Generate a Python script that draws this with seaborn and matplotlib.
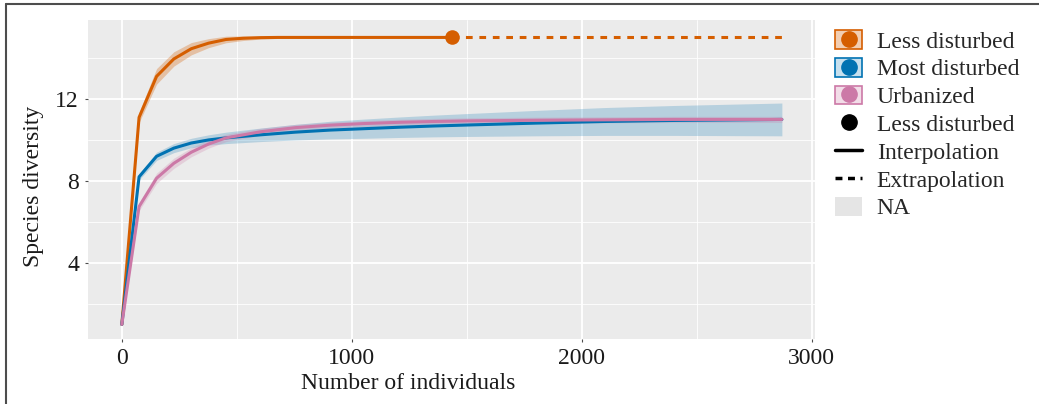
import numpy as np
import pandas as pd
import matplotlib
matplotlib.use("Agg")
import matplotlib.pyplot as plt
import seaborn as sns
from matplotlib.lines import Line2D
from matplotlib.patches import Patch
from matplotlib.legend_handler import HandlerTuple

# ---------------- data ----------------
assemblages = ["Less disturbed", "Most disturbed", "Urbanized"]
colors = ["#D55E00", "#0072B2", "#CC79A7"]

less_m = [1, 76, 152, 227, 303, 378, 454, 529, 605, 680, 756, 831, 906, 982,
          1057, 1133, 1208, 1284, 1359, 1435]
less_q = [1.0, 11.1, 13.1, 13.95, 14.45, 14.72, 14.9, 14.96, 14.99, 15.0, 15.0,
          15.0, 15.0, 15.0, 15.0, 15.0, 15.0, 15.0, 15.0, 15.0]
less_se = [0.0, 0.25, 0.38, 0.35, 0.3, 0.22, 0.16, 0.11, 0.07, 0.05, 0.03, 0.02,
           0.01, 0.0, 0.0, 0.0, 0.0, 0.0, 0.0, 0.0]
less_ext_m = [1435, 2870]
less_ext_q = [15.0, 15.0]

most_m = [1, 76, 152, 227, 303, 378, 454, 605, 756, 906, 1057, 1208, 1359,
          1510, 1800, 2100, 2400, 2870]
most_q = [1.0, 8.2, 9.2, 9.6, 9.85, 10.0, 10.1, 10.25, 10.38, 10.48, 10.55,
          10.62, 10.68, 10.73, 10.82, 10.9, 10.95, 11.0]
most_se = [0.0, 0.15, 0.2, 0.22, 0.23, 0.25, 0.28, 0.33, 0.38, 0.43, 0.47, 0.5,
           0.53, 0.56, 0.62, 0.68, 0.73, 0.8]

urb_m = [1, 76, 152, 227, 303, 378, 454, 605, 756, 906, 1057, 1208, 1359,
         1510, 1800, 2100, 2400, 2870]
urb_q = [1.0, 6.75, 8.13, 8.86, 9.4, 9.8, 10.1, 10.4, 10.6, 10.72, 10.8, 10.86,
         10.9, 10.93, 10.96, 10.98, 11.0, 11.0]
urb_se = [0.0, 0.2, 0.25, 0.25, 0.22, 0.2, 0.18, 0.17, 0.16, 0.15, 0.15, 0.15,
          0.15, 0.15, 0.15, 0.15, 0.15, 0.15]

ref_point_m = [1435]
ref_point_q = [15.0]

x_ticks = [0, 1000, 2000, 3000]
x_minor = [500, 1500, 2500]
y_ticks = [4, 8, 12]
y_minor = [2, 6, 10, 14]

# ---------------- styling ----------------
sns.set_theme(style="darkgrid", rc={"axes.facecolor": "#EBEBEB",
                                     "grid.color": "white"})
plt.rcParams["font.family"] = ["Liberation Serif", "DejaVu Serif"]
FS = 17

fig = plt.figure(figsize=(10.39, 4.04), dpi=100)
ax = fig.add_axes([88 / 1039, 1 - 339 / 404, (815 - 88) / 1039, (339 - 20) / 404])

interp = pd.concat([
    pd.DataFrame({"m": less_m, "qD": less_q, "se": less_se, "Assemblage": assemblages[0]}),
    pd.DataFrame({"m": most_m, "qD": most_q, "se": most_se, "Assemblage": assemblages[1]}),
    pd.DataFrame({"m": urb_m, "qD": urb_q, "se": urb_se, "Assemblage": assemblages[2]}),
], ignore_index=True)
extra = pd.DataFrame({"m": less_ext_m, "qD": less_ext_q, "Assemblage": assemblages[0]})
pal = dict(zip(assemblages, colors))
band_alpha = {assemblages[0]: 0.3, assemblages[1]: 0.22, assemblages[2]: 0.25}

for name in assemblages:
    d = interp[interp["Assemblage"] == name]
    ax.fill_between(d["m"], d["qD"] - d["se"], d["qD"] + d["se"],
                    color=pal[name], alpha=band_alpha[name], lw=0, zorder=2)

sns.lineplot(data=interp, x="m", y="qD", hue="Assemblage", palette=pal,
             estimator=None, linewidth=2.2, legend=False, ax=ax, zorder=3)
sns.lineplot(data=extra, x="m", y="qD", hue="Assemblage", palette=pal,
             estimator=None, linewidth=2.2, legend=False, ax=ax, zorder=3,
             dashes=False)
ax.lines[-1].set_linestyle((0, (2.2, 2.2)))
sns.scatterplot(x=ref_point_m, y=ref_point_q, color=colors[0], s=110,
                marker="o", linewidth=0, ax=ax, zorder=4, legend=False)

ax.set_xlim(-146, 3014)
ax.set_ylim(0.29, 15.85)
ax.set_xticks(x_ticks)
ax.set_xticks(x_minor, minor=True)
ax.set_yticks(y_ticks)
ax.set_yticks(y_minor, minor=True)
ax.set_xticklabels([str(v) for v in x_ticks], fontsize=FS)
ax.set_yticklabels([str(v) for v in y_ticks], fontsize=FS)
ax.grid(which="major", color="white", linewidth=1.3)
ax.grid(which="minor", color="white", linewidth=0.6)
ax.tick_params(which="major", length=2.5, width=0.8, color="#4d4d4d",
               pad=4, labelcolor="#1a1a1a", bottom=True, left=True)
ax.tick_params(which="minor", length=0)
for s in ax.spines.values():
    s.set_visible(False)

ax.set_xlabel("Number of individuals", fontsize=FS, color="#1a1a1a")
ax.set_ylabel("Species diversity", fontsize=FS, color="#1a1a1a")
ax.xaxis.label.set_verticalalignment("center")
ax.yaxis.label.set_verticalalignment("center")
ax.xaxis.set_label_coords(0.44, -0.141)
ax.yaxis.set_label_coords(-0.0743, 0.48)

# ---------------- legend ----------------
handles = []
for c, a in zip(colors, [0.3, 0.22, 0.25]):
    box = Patch(facecolor=matplotlib.colors.to_rgba(c, a), edgecolor=c, linewidth=1.2)
    dot = Line2D([], [], color=c, marker="o", markersize=11, linestyle="none")
    handles.append((box, dot))
handles.append(Line2D([], [], color="black", marker="o", markersize=11, linestyle="none"))
handles.append(Line2D([], [], color="black", linewidth=2.5))
handles.append(Line2D([], [], color="black", linewidth=2.5, linestyle=(0, (2.0, 1.6))))
handles.append(Patch(facecolor="#E5E5E5", edgecolor="none"))
labels = assemblages + ["Less disturbed", "Interpolation", "Extrapolation", "NA"]

fig.legend(handles, labels, loc="upper left",
           bbox_to_anchor=(835 / 1039, 1 - 30 / 404),
           frameon=False, fontsize=FS, borderpad=0, borderaxespad=0,
           labelspacing=0.22, handlelength=1.15, handleheight=0.85,
           handletextpad=0.62,
           handler_map={tuple: HandlerTuple(ndivide=1, pad=0)})

# figure frame (top & left edges visible in reference)
fig.add_artist(Line2D([0.0055, 1.0], [0.9894, 0.9894], transform=fig.transFigure,
                      color="#4d4d4d", linewidth=1.5))
fig.add_artist(Line2D([0.0055, 0.0055], [0.0, 0.9894], transform=fig.transFigure,
                      color="#4d4d4d", linewidth=1.5))

fig.savefig("out.png", dpi=100)
